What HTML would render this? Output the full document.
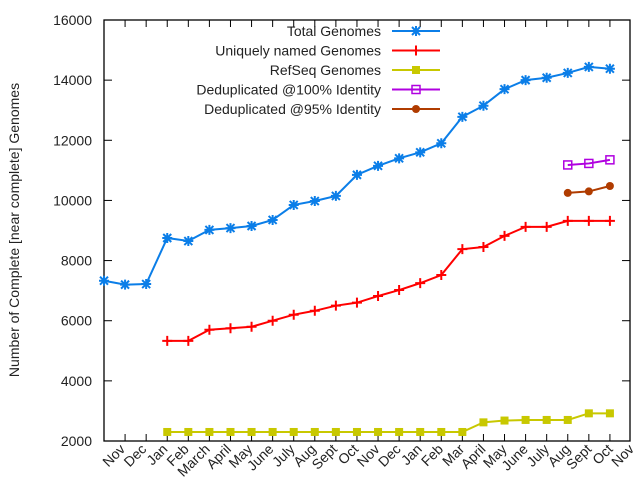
<!DOCTYPE html><html><head><style>body{margin:0;background:#fff}svg{font-family:"Liberation Sans",sans-serif}</style></head><body>
<svg id="s" width="640" height="480" xmlns="http://www.w3.org/2000/svg">
<rect width="640" height="480" fill="#fff"/>
<g id="g"></g>
</svg>
<script>
const g=document.getElementById('g');let h='';
const X0=104,DX=21.08,Y=v=>441-(v-2000)*421/14000;
const X=i=>X0+i*DX;
h+='<rect x="104" y="20" width="526" height="421" fill="none" stroke="#000" stroke-width="1.3"/>';
for(let v=2000;v<=16000;v+=2000){const y=Y(v);h+=`<line x1="104" y1="${y}" x2="112" y2="${y}" stroke="#000"/><line x1="622" y1="${y}" x2="630" y2="${y}" stroke="#000"/><text x="92" y="${y+5}" font-size="14" text-anchor="end" fill="#222">${v}</text>`;}
const L=["Nov","Dec","Jan","Feb","March","April","May","June","July","Aug","Sept","Oct","Nov","Dec","Jan","Feb","Mar","April","May","June","July","Aug","Sept","Oct","Nov"];
for(let i=1;i<25;i++){h+=`<line x1="${X(i)}" y1="441" x2="${X(i)}" y2="434" stroke="#000"/><line x1="${X(i)}" y1="20" x2="${X(i)}" y2="27" stroke="#000"/>`;}
L.forEach((t,k)=>{const x=126+21.2*k;h+=`<text transform="translate(${x},450) rotate(-45)" font-size="14" text-anchor="end" fill="#222">${t}</text>`;});
h+=`<text transform="translate(19,230) rotate(-90)" font-size="14" text-anchor="middle" fill="#222">Number of Complete [near complete] Genomes</text>`;
function mk(type,x,y,c){if(type=='x')return `<path d="M${x-4} ${y-4}L${x+4} ${y+4}M${x-4} ${y+4}L${x+4} ${y-4}M${x-5} ${y}H${x+5}M${x} ${y-5}V${y+5}" stroke="${c}" stroke-width="2"/>`;
if(type=='+')return `<path d="M${x-5} ${y}H${x+5}M${x} ${y-5}V${y+5}" stroke="${c}" stroke-width="2"/>`;
if(type=='sq')return `<rect x="${x-4}" y="${y-4}" width="8" height="8" fill="none" stroke="${c}" stroke-width="1.5"/>`;
if(type=='fs')return `<rect x="${x-4}" y="${y-4}" width="8" height="8" fill="${c}"/>`;
return `<circle cx="${x}" cy="${y}" r="4" fill="${c}"/>`;}
function ser(start,vals,c,t){let p=vals.map((v,j)=>`${X(start+j)},${Y(v)}`).join(' ');h+=`<polyline points="${p}" fill="none" stroke="${c}" stroke-width="2"/>`;vals.forEach((v,j)=>h+=mk(t,X(start+j),Y(v),c));}
ser(0,[7330,7200,7220,8750,8650,9020,9080,9150,9350,9850,9980,10150,10850,11150,11400,11600,11900,12780,13150,13700,14000,14080,14240,14440,14380],'#0b7ee8','x');
ser(3,[5330,5330,5700,5750,5800,6000,6200,6330,6500,6600,6820,7020,7250,7520,8380,8450,8820,9120,9120,9320,9320,9320],'#f00','+');
ser(3,[2300,2300,2300,2300,2300,2300,2300,2300,2300,2300,2300,2300,2300,2300,2300,2620,2680,2700,2700,2700,2920,2920],'#c8c800','fs');
ser(22,[11180,11230,11350],'#b000e0','sq');
ser(22,[10250,10300,10480],'#b03c00','o');
const LG=[["Total Genomes",'#0b7ee8','x'],["Uniquely named Genomes",'#f00','+'],["RefSeq Genomes",'#c8c800','fs'],["Deduplicated @100% Identity",'#b000e0','sq'],["Deduplicated @95% Identity",'#b03c00','o']];
LG.forEach((l,k)=>{const y=31+k*19.5;h+=`<text x="381" y="${y+5}" font-size="14" text-anchor="end" fill="#222">${l[0]}</text><line x1="392" y1="${y}" x2="440" y2="${y}" stroke="${l[1]}" stroke-width="2"/>`+mk(l[2],416,y,l[1]);});
g.innerHTML=h;
</script>
</body></html>
